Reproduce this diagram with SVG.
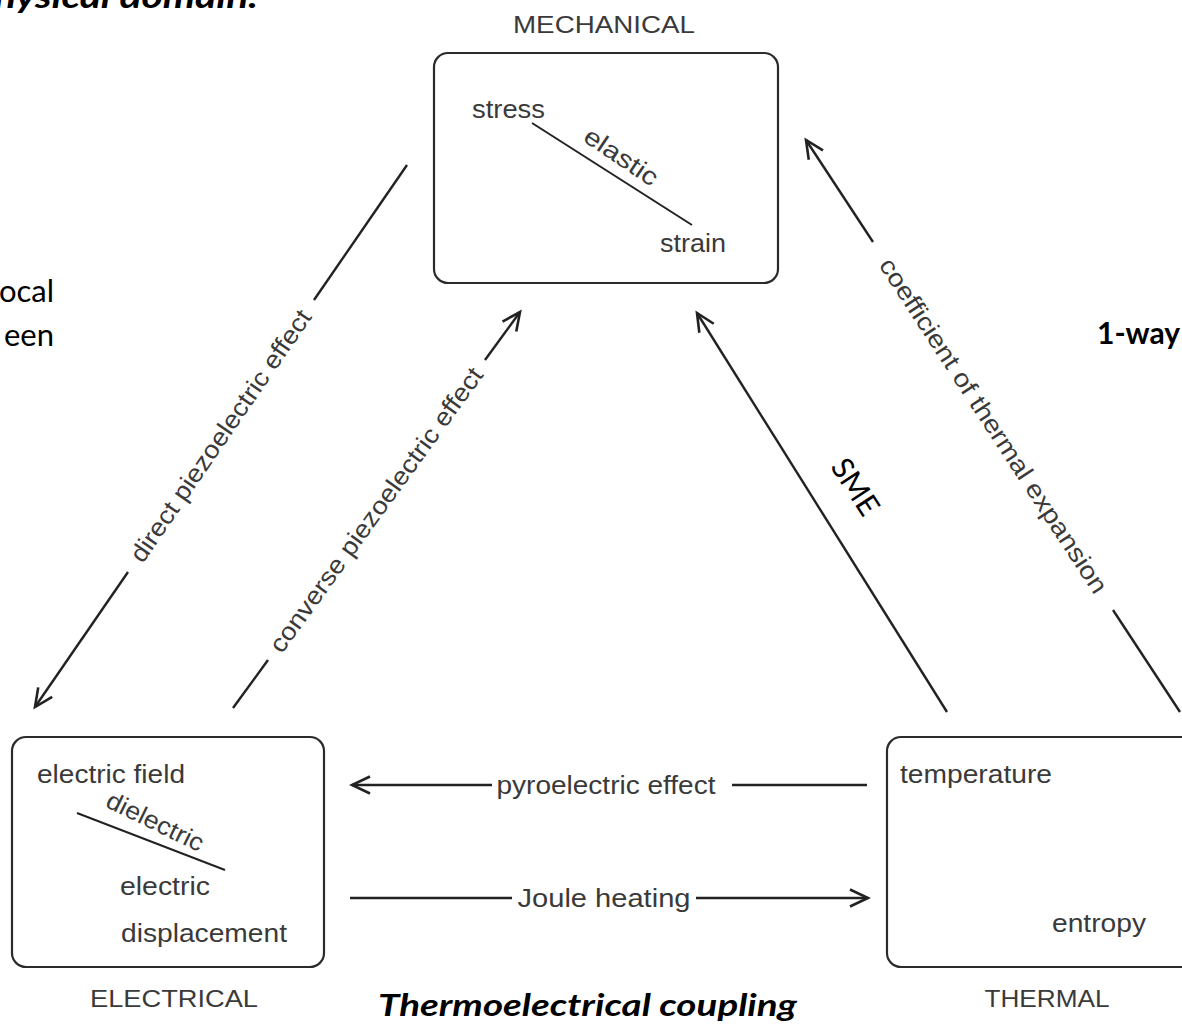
<svg xmlns="http://www.w3.org/2000/svg" width="1182" height="1027" viewBox="0 0 1182 1027">
<style>
.box{fill:#fff;stroke:#2b2b2b;stroke-width:2.2}
.lbl{font-family:"Liberation Sans",Arial,sans-serif;font-size:25px;fill:#3a3a3a}
.dom{font-family:"Liberation Sans",Arial,sans-serif;font-size:24px;fill:#3a3a3a}
.con{stroke:#222;stroke-width:2.4;fill:none}
.cap{font-family:Lato,"Open Sans",sans-serif;fill:#000}
</style>
<defs>
<marker id="arr" viewBox="0 0 24 24" refX="21" refY="12" markerWidth="24" markerHeight="24" markerUnits="userSpaceOnUse" orient="auto">
<path d="M3,3.5 L21,12 L3,20.5" fill="none" stroke="#222" stroke-width="2.6"/>
</marker>
</defs>
<rect width="1182" height="1027" fill="#fff"/>

<g id="annotations">
<text class="cap" x="-28" y="8" font-size="32" font-weight="bold" font-style="italic" textLength="286" lengthAdjust="spacingAndGlyphs">physical domain.</text>
<text class="cap" x="54" y="302" text-anchor="end" font-size="31">ocal</text>
<text class="cap" x="54" y="346" text-anchor="end" font-size="31">een</text>
<text class="cap" x="1097" y="344" font-size="30" font-weight="bold">1-way</text>
<text class="cap" x="378" y="1016" font-size="30" font-weight="bold" font-style="italic" textLength="419" lengthAdjust="spacingAndGlyphs">Thermoelectrical coupling</text>
</g>

<g id="mechanical">
<text class="dom" x="604" y="33" text-anchor="middle" textLength="182" lengthAdjust="spacingAndGlyphs">MECHANICAL</text>
<rect class="box" x="434" y="53" width="344" height="230" rx="14"/>
<text class="lbl" x="472" y="118" textLength="73" lengthAdjust="spacingAndGlyphs">stress</text>
<line x1="532" y1="123" x2="692" y2="225" stroke="#222" stroke-width="2"/>
<text class="lbl" transform="translate(621,157) rotate(34)" x="0" y="8" text-anchor="middle" textLength="84" lengthAdjust="spacingAndGlyphs">elastic</text>
<text class="lbl" x="660" y="252" textLength="66" lengthAdjust="spacingAndGlyphs">strain</text>
</g>

<g id="electrical">
<rect class="box" x="12" y="737" width="312" height="230" rx="14"/>
<text class="lbl" x="37" y="783" textLength="148" lengthAdjust="spacingAndGlyphs">electric field</text>
<line x1="77" y1="813" x2="225" y2="870" stroke="#222" stroke-width="2"/>
<text class="lbl" transform="translate(155,822) rotate(26)" x="0" y="8" text-anchor="middle" textLength="105" lengthAdjust="spacingAndGlyphs">dielectric</text>
<text class="lbl" x="120" y="895" textLength="90" lengthAdjust="spacingAndGlyphs">electric</text>
<text class="lbl" x="121" y="942" textLength="166" lengthAdjust="spacingAndGlyphs">displacement</text>
<text class="dom" x="174" y="1007" text-anchor="middle" textLength="168" lengthAdjust="spacingAndGlyphs">ELECTRICAL</text>
</g>

<g id="thermal">
<rect class="box" x="887" y="737" width="330" height="230" rx="14"/>
<text class="lbl" x="900" y="783" textLength="152" lengthAdjust="spacingAndGlyphs">temperature</text>
<text class="lbl" x="1052" y="932" textLength="94" lengthAdjust="spacingAndGlyphs">entropy</text>
<text class="dom" x="1047" y="1007" text-anchor="middle" textLength="125" lengthAdjust="spacingAndGlyphs">THERMAL</text>
</g>

<g id="connectors">
<line class="con" x1="407" y1="165" x2="314" y2="300"/>
<line class="con" x1="128" y1="572" x2="35" y2="707" marker-end="url(#arr)"/>
<text class="lbl" transform="translate(221,436) rotate(-55.5)" x="0" y="8" text-anchor="middle" textLength="300" lengthAdjust="spacingAndGlyphs">direct piezoelectric effect</text>
<line class="con" x1="233" y1="708" x2="268" y2="660"/>
<line class="con" x1="485" y1="360" x2="520" y2="312" marker-end="url(#arr)"/>
<text class="lbl" transform="translate(376.5,510) rotate(-54.1)" x="0" y="8" text-anchor="middle" textLength="345" lengthAdjust="spacingAndGlyphs">converse piezoelectric effect</text>
<line class="con" x1="947" y1="712" x2="697" y2="313" marker-end="url(#arr)"/>
<text class="cap" transform="translate(855,487) rotate(57)" x="0" y="10" text-anchor="middle" font-size="30">SME</text>
<line class="con" x1="1180" y1="712" x2="1113" y2="610"/>
<line class="con" x1="873" y1="242" x2="806" y2="140" marker-end="url(#arr)"/>
<text class="lbl" transform="translate(993,426) rotate(56.8)" x="0" y="8" text-anchor="middle" textLength="395" lengthAdjust="spacingAndGlyphs">coefficient of thermal expansion</text>
<line class="con" x1="867" y1="785" x2="732" y2="785"/>
<line class="con" x1="492" y1="785" x2="352" y2="785" marker-end="url(#arr)"/>
<text class="lbl" x="606" y="794" text-anchor="middle" textLength="219" lengthAdjust="spacingAndGlyphs">pyroelectric effect</text>
<line class="con" x1="350" y1="898" x2="512" y2="898"/>
<line class="con" x1="696" y1="898" x2="868" y2="898" marker-end="url(#arr)"/>
<text class="lbl" x="604" y="907" text-anchor="middle" textLength="173" lengthAdjust="spacingAndGlyphs">Joule heating</text>
</g>
</svg>
